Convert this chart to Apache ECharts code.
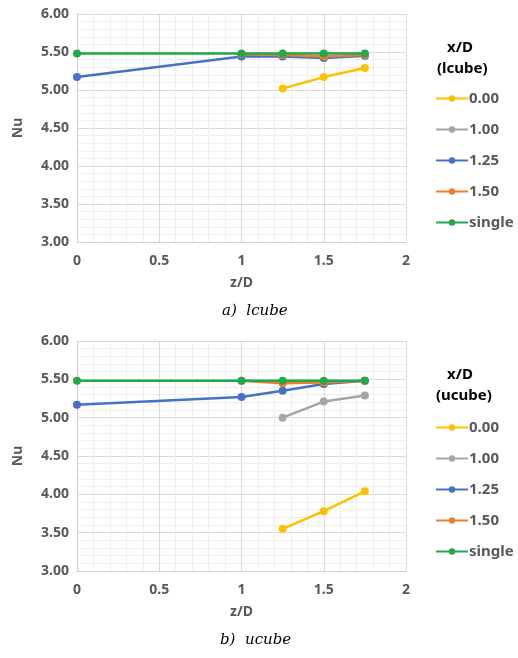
<!DOCTYPE html>
<html>
<head>
<meta charset="utf-8">
<script src="https://cdn.jsdelivr.net/npm/echarts@6/dist/echarts.min.js"></script>
<style>
  html, body { margin: 0; padding: 0; background: #fff; }
  #chart { width: 518px; height: 658px; }
</style>
</head>
<body>
<div id="chart"></div>
<script>
// series names and colours
const names = ['0.00', '1.00', '1.25', '1.50', 'single'];
const colors = ['#FFC000', '#A5A5A5', '#4472C4', '#ED7D31', '#22A846'];

// lcube: [z/D, Nu]
const lcube00 = [[1.25, 5.02], [1.5, 5.17], [1.75, 5.29]];
const lcube100 = [[1, 5.45], [1.25, 5.45], [1.5, 5.43], [1.75, 5.45]];
const lcube125 = [[0, 5.17], [1, 5.44], [1.25, 5.44], [1.5, 5.42], [1.75, 5.45]];
const lcube150 = [[1, 5.47], [1.25, 5.46], [1.5, 5.44], [1.75, 5.46]];
const lcubeSingle = [[0, 5.48], [1, 5.48], [1.25, 5.48], [1.5, 5.48], [1.75, 5.48]];

// ucube
const ucube00 = [[1.25, 3.55], [1.5, 3.78], [1.75, 4.04]];
const ucube100 = [[1.25, 5.00], [1.5, 5.21], [1.75, 5.29]];
const ucube125 = [[0, 5.17], [1, 5.27], [1.25, 5.35], [1.5, 5.44], [1.75, 5.48]];
const ucube150 = [[1, 5.48], [1.25, 5.45], [1.5, 5.46], [1.75, 5.48]];
const ucubeSingle = [[0, 5.48], [1, 5.48], [1.25, 5.48], [1.5, 5.48], [1.75, 5.48]];

const lcube = [lcube00, lcube100, lcube125, lcube150, lcubeSingle];
const ucube = [ucube00, ucube100, ucube125, ucube150, ucubeSingle];

const labelStyle = { color: '#595959', fontSize: 14, fontWeight: 'bold', fontFamily: 'Noto Sans' };

function xAxis(gi) {
  return {
    type: 'value', gridIndex: gi, min: 0, max: 2, interval: 0.5,
    name: 'z/D', nameLocation: 'middle', nameGap: 34,
    nameTextStyle: labelStyle,
    axisLabel: Object.assign({ margin: 12, formatter: v => String(v) }, labelStyle),
    axisLine: { lineStyle: { color: '#d0d0d0' } },
    axisTick: { show: false },
    splitLine: { lineStyle: { color: '#d9d9d9' } },
    minorTick: { show: false, splitNumber: 5 },
    minorSplitLine: { show: true, lineStyle: { color: '#eeeeee' } }
  };
}
function yAxis(gi) {
  return {
    type: 'value', gridIndex: gi, min: 3, max: 6, interval: 0.5,
    name: 'Nu', nameLocation: 'middle', nameGap: 52,
    nameTextStyle: labelStyle,
    axisLabel: Object.assign({ formatter: v => v.toFixed(2) }, labelStyle),
    axisLine: { show: true, lineStyle: { color: '#d0d0d0' } },
    axisTick: { show: false },
    splitLine: { lineStyle: { color: '#d9d9d9' } },
    minorTick: { show: false, splitNumber: 5 },
    minorSplitLine: { show: true, lineStyle: { color: '#eeeeee' } }
  };
}

const series = [];
[lcube, ucube].forEach((set, gi) => {
  set.forEach((d, i) => {
    series.push({
      name: names[i], type: 'line', xAxisIndex: gi, yAxisIndex: gi,
      data: d, symbol: 'circle', symbolSize: 8, z: 2 + i,
      itemStyle: { color: colors[i] },
      lineStyle: { width: 2.5, color: colors[i] }
    });
  });
});

function legend(top) {
  return {
    orient: 'vertical', left: 430, top: top, itemGap: 16,
    itemWidth: 32, itemHeight: 8,
    textStyle: Object.assign({}, labelStyle, { fontSize: 15, padding: [0, 0, 0, -4] }),
    data: names
  };
}

const chart = echarts.init(document.getElementById('chart'));
chart.setOption({
  animation: false,
  grid: [
    { left: 77, top: 14, width: 329, height: 228 },
    { left: 77, top: 341, width: 329, height: 230 }
  ],
  xAxis: [xAxis(0), xAxis(1)],
  yAxis: [yAxis(0), yAxis(1)],
  legend: [legend(86), legend(415)],
  graphic: [
    { type: 'text', left: 447, top: 40, style: { text: 'x/D', fill: '#000', font: 'bold 15px "Noto Sans"' } },
    { type: 'text', left: 437, top: 61, style: { text: '(lcube)', fill: '#000', font: 'bold 15px "Noto Sans"' } },
    { type: 'text', left: 447, top: 367, style: { text: 'x/D', fill: '#000', font: 'bold 15px "Noto Sans"' } },
    { type: 'text', left: 436, top: 388, style: { text: '(ucube)', fill: '#000', font: 'bold 15px "Noto Sans"' } },
    { type: 'text', left: 222, top: 304, style: { text: 'a)  lcube', fill: '#000', font: 'italic 15px "DejaVu Serif"' } },
    { type: 'text', left: 220, top: 633, style: { text: 'b)  ucube', fill: '#000', font: 'italic 15px "DejaVu Serif"' } }
  ],
  series: series
});
</script>
</body>
</html>
